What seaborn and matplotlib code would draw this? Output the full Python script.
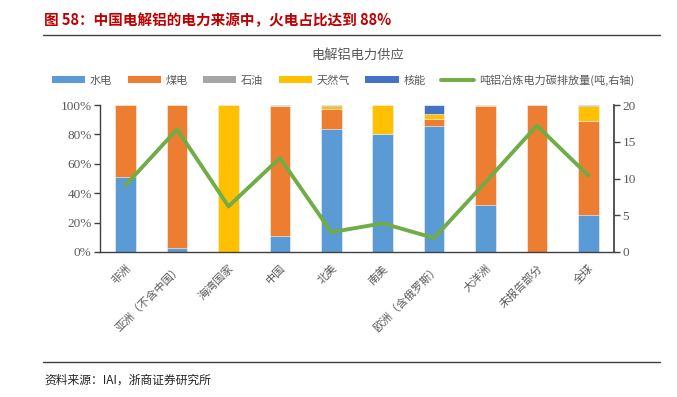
import numpy as np
import pandas as pd
import matplotlib
matplotlib.use("Agg")
import matplotlib.pyplot as plt
import seaborn as sns
from matplotlib.patches import Patch
from matplotlib.lines import Line2D
from matplotlib.ticker import PercentFormatter

# 数据
regions = ["非洲", "亚洲（不含中国）", "海湾国家", "中国", "北美", "南美",
           "欧洲（含俄罗斯）", "大洋洲", "未报告部分", "全球"]
hydro = [51, 3, 0, 11, 84, 80, 86, 32, 0, 25]
coal = [49, 97, 0, 88, 13.5, 0, 4.8, 67, 100, 64]
oil = [0, 0, 0, 0, 0, 0, 0, 0, 0, 0]
gas = [0, 0, 100, 0, 1.5, 20, 3.2, 1, 0, 10]
nuclear = [0, 0, 0, 1, 1, 0, 6, 0, 0, 1]
carbon = [9.1, 16.7, 6.2, 12.8, 2.7, 3.9, 1.9, 9.5, 17.2, 10.4]

series_names = ["水电", "煤电", "石油", "天然气", "核能"]
line_name = "吨铝冶炼电力碳排放量(吨,右轴)"
colors = ["#5B9BD5", "#ED7D31", "#A5A5A5", "#FFC000", "#4472C4"]
line_color = "#70AD47"

sns.set_theme(style="white")
plt.rcParams["font.family"] = ["Noto Sans CJK SC", "DejaVu Sans"]

W, H = 677, 397
fig = plt.figure(figsize=(W / 100, H / 100), dpi=100)

# 标题与分隔线
fig.text(44 / W, 1 - 20 / H, "图 58：中国电解铝的电力来源中，火电占比达到 88%",
         color="#C00000", fontsize=10.5, fontweight="bold", va="center", ha="left")
fig.add_artist(Line2D([43 / W, 660 / W], [1 - 35 / H, 1 - 35 / H], color="#404040", lw=1.0))
fig.add_artist(Line2D([43 / W, 660 / W], [1 - 362 / H, 1 - 362 / H], color="#404040", lw=1.0))
fig.text(44 / W, 1 - 380 / H, "资料来源：IAI，浙商证券研究所", color="#222222",
         fontsize=8.5, va="center", ha="left")
fig.text(358 / W, 1 - 55 / H, "电解铝电力供应", color="#595959", fontsize=9.5,
         va="center", ha="center")

ax = fig.add_axes([100 / W, 1 - 252 / H, 514 / W, 147 / H])

layers = np.array([hydro, coal, oil, gas, nuclear], dtype=float) / 100.0
cum = np.cumsum(layers, axis=0)
for i in reversed(range(len(series_names))):
    df = pd.DataFrame({"region": regions, "value": cum[i]})
    sns.barplot(data=df, x="region", y="value", order=regions, color=colors[i],
                saturation=1, width=0.4, ax=ax, edgecolor="white", linewidth=0.4)

ax.set_ylim(0, 1)
ax.set_xlim(-0.5, len(regions) - 0.5)
ax.yaxis.set_major_formatter(PercentFormatter(1.0, decimals=0))
ax.set_yticks(np.linspace(0, 1, 6))
ax.set_xlabel("")
ax.set_ylabel("")
ax.set_xticks(range(len(regions)))
ax.set_xticklabels(regions, rotation=45, ha="right", rotation_mode="anchor",
                   fontsize=8, color="#595959")
ax.tick_params(axis="y", length=4, width=1, color="#404040", labelsize=9.5,
               labelcolor="#595959", left=True, pad=2,
               labelfontfamily="Liberation Serif")
ax.tick_params(axis="x", length=0, pad=8)
for s in ["top", "right"]:
    ax.spines[s].set_visible(False)
for s in ["left", "bottom"]:
    ax.spines[s].set_color("#404040")
    ax.spines[s].set_linewidth(1.0)

ax2 = ax.twinx()
sns.lineplot(x=np.arange(len(regions)), y=carbon, ax=ax2, color=line_color,
             lw=2.8, sort=False)
ax2.set_ylim(0, 20)
ax2.set_yticks([0, 5, 10, 15, 20])
ax2.tick_params(axis="y", length=4, width=1, color="#404040", labelsize=9.5,
                labelcolor="#595959", right=True, pad=2,
                labelfontfamily="Liberation Serif")
for s in ["top", "left", "bottom"]:
    ax2.spines[s].set_visible(False)
ax2.spines["right"].set_visible(True)
ax2.spines["right"].set_color("#404040")
ax2.set_ylabel("")
ax2.grid(False)
ax.grid(False)

handles = [Patch(facecolor=c, edgecolor="none") for c in colors]
handles.append(Line2D([0], [0], color=line_color, lw=2.8))
fig.legend(handles, series_names + [line_name], loc="center",
           bbox_to_anchor=(343 / W, 1 - 80 / H), ncol=6, frameon=False,
           fontsize=8, handlelength=3.0, handleheight=0.6, columnspacing=1.4,
           handletextpad=0.4, labelcolor="#595959")

fig.savefig("out.png", dpi=100)
